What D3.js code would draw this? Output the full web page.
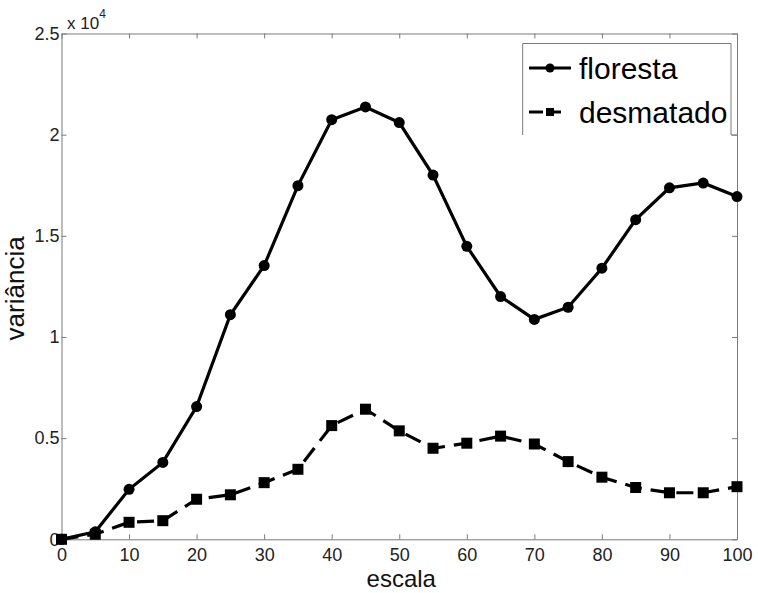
<!DOCTYPE html>
<html>
<head>
  <title>variância x escala</title>
  <script src="https://d3js.org/d3.v7.min.js"></script>
  <style>
    body { margin: 0; background: #fff; }
    text { font-family: "Liberation Sans", Arial, sans-serif; }
  </style>
</head>
<body>
  <div id="chart"></div>

  <script>
    // dados
    const escala = [0, 5, 10, 15, 20, 25, 30, 35, 40, 45, 50, 55, 60, 65, 70, 75, 80, 85, 90, 95, 100];
    const floresta = [0, 370, 2470, 3800, 6560, 11100, 13530, 17480, 20740, 21370, 20600,
                      18000, 14480, 12000, 10870, 11470, 13400, 15800, 17370, 17610, 16940];
    const desmatado = [0, 250, 840, 920, 1980, 2200, 2800, 3460, 5620, 6430, 5360,
                       4500, 4750, 5100, 4710, 3840, 3070, 2560, 2300, 2300, 2600];
    const xTicks = [0, 10, 20, 30, 40, 50, 60, 70, 80, 90, 100];
    const yTicks = [0, 5000, 10000, 15000, 20000, 25000];
    const series = [
      {name: "floresta", values: floresta, marker: "circle", dash: null},
      {name: "desmatado", values: desmatado, marker: "square", dash: "17,9"}
    ];

    const W = 758, H = 593;
    const L = 61.5, R = 737, T = 33.5, B = 539.3;
    const axisColor = "#7a7a7a";

    const svg = d3.select("#chart").append("svg")
      .attr("width", W)
      .attr("height", H);

    const x = d3.scaleLinear().domain([0, 100]).range([L, R]);
    const y = d3.scaleLinear().domain([0, 25000]).range([B, T]);

    // eixos (ticks para dentro, como no matlab)
    const styleAxis = function(g) {
      g.select(".domain").attr("stroke", axisColor);
      g.selectAll(".tick line").attr("stroke", axisColor);
      g.selectAll(".tick text").attr("fill", "#222").style("font-size", "18px")
        .attr("font-family", "Liberation Sans, Arial, sans-serif");
    };

    svg.append("g")
      .attr("transform", `translate(0,${B})`)
      .call(d3.axisBottom(x).tickValues(xTicks).tickSize(-5).tickSizeOuter(0).tickPadding(9))
      .call(styleAxis);

    svg.append("g")
      .attr("transform", `translate(0,${T})`)
      .call(d3.axisTop(x).tickValues(xTicks).tickSize(-5).tickSizeOuter(0).tickFormat(""))
      .call(styleAxis);

    svg.append("g")
      .attr("transform", `translate(${L},0)`)
      .call(d3.axisLeft(y).tickValues(yTicks).tickSize(-5).tickSizeOuter(0).tickPadding(2)
        .tickFormat(d => d / 1e4))
      .call(styleAxis);

    svg.append("g")
      .attr("transform", `translate(${R},0)`)
      .call(d3.axisRight(y).tickValues(yTicks).tickSize(-5).tickSizeOuter(0).tickFormat(""))
      .call(styleAxis);

    // multiplicador
    const mult = svg.append("text")
      .attr("x", 67)
      .attr("y", 29)
      .attr("fill", "#222")
      .style("font-size", "17px");
    mult.append("tspan").text("x 10");
    mult.append("tspan").attr("dy", -11).style("font-size", "12px").text("4");

    // rotulos
    svg.append("text")
      .attr("x", (L + R) / 2 + 2)
      .attr("y", 587)
      .attr("text-anchor", "middle")
      .attr("fill", "#111")
      .style("font-size", "24px")
      .text("escala");

    svg.append("text")
      .attr("transform", `translate(23.5,${(T + B) / 2 + 2}) rotate(-90)`)
      .attr("text-anchor", "middle")
      .attr("fill", "#111")
      .style("font-size", "26px")
      .text("variância");

    const line = d3.line()
      .x((d, i) => x(escala[i]))
      .y(d => y(d));

    const drawMarker = function(g, type, cx, cy, size) {
      if (type === "circle") {
        g.append("circle").attr("cx", cx).attr("cy", cy).attr("r", size / 2).attr("fill", "#000");
      } else {
        g.append("rect").attr("x", cx - size / 2).attr("y", cy - size / 2)
          .attr("width", size).attr("height", size).attr("fill", "#000");
      }
    };

    series.forEach(s => {
      svg.append("path")
        .datum(s.values)
        .attr("d", line)
        .attr("fill", "none")
        .attr("stroke", "#000")
        .attr("stroke-width", 3.2)
        .attr("stroke-dasharray", s.dash);
      const g = svg.append("g");
      s.values.forEach((v, i) => drawMarker(g, s.marker, x(escala[i]), y(v), 11));
    });

    // legenda
    const lg = svg.append("g");
    lg.append("path")
      .attr("d", "M522.7,135V43.5H731V135H737")
      .attr("fill", "none")
      .attr("stroke", axisColor);

    series.forEach((s, i) => {
      const ly = 68 + i * 44;
      lg.append("line")
        .attr("x1", 529).attr("x2", s.dash ? 562 : 571)
        .attr("y1", ly).attr("y2", ly)
        .attr("stroke", "#000")
        .attr("stroke-width", 3.2)
        .attr("stroke-dasharray", s.dash ? "14,4" : null);
      drawMarker(lg, s.marker, 550, ly, s.marker === "circle" ? 9 : 8);
      lg.append("text")
        .attr("x", 579)
        .attr("y", ly + 11)
        .attr("fill", "#000")
        .style("font-size", "30px")
        .text(s.name);
    });
  </script>
</body>
</html>
